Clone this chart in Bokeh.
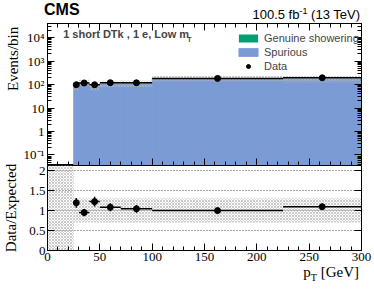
from bokeh.plotting import figure
from bokeh.models import Range1d, FixedTicker, LinearAxis, LogAxis, Label, Legend, LegendItem, Div
from bokeh.layouts import column
from bokeh.embed import file_html
from bokeh.resources import INLINE

# ---- data ----
bin_lo = [25, 30, 40, 50, 70, 100, 225]
bin_hi = [30, 40, 50, 70, 100, 225, 300]
spurious = [80, 120, 78, 108, 111, 179, 173]
genuine = [2, 2, 2, 2, 2, 3, 3]
bkg_unc = [0.30, 0.30, 0.30, 0.30, 0.30, 0.30, 0.30]
data = [98, 116, 98, 119, 118, 182, 193]
data_err = [10, 11, 10, 11, 11, 13.5, 14]

log_ticks = [0.1, 1, 10, 100, 1000, 10000]
log_labels = ["10\u207b\u00b9", "1", "10", "10\u00b2", "10\u00b3", "10\u2074"]
x_ticks = [0, 50, 100, 150, 200, 250, 300]
ratio_ticks = [0, 0.5, 1, 1.5, 2]
ratio_labels = ["0", "0.5", "1", "1.5", "2"]

BLUE = "#7b9bd5"
GREEN = "#00a070"
SERIF = "Liberation Serif"
SANS = "Liberation Sans"
HATCH = "#b4b4b4"

centers = [(a + b) / 2 for a, b in zip(bin_lo, bin_hi)]
total = [s + g for s, g in zip(spurious, genuine)]
ratio = [d / t for d, t in zip(data, total)]
ratio_err = [e / t for e, t in zip(data_err, total)]

xr = Range1d(0, 300)
minor_x = [v for v in range(10, 300, 10) if v % 50]
minor_log = [m * 10.0 ** e for e in range(-2, 5) for m in range(2, 10)]


def style_axis(ax, standoff=3):
    ax.major_tick_in = 7
    ax.major_tick_out = 0
    ax.minor_tick_in = 4
    ax.minor_tick_out = 0
    ax.axis_line_color = "black"
    ax.major_tick_line_color = "black"
    ax.minor_tick_line_color = "black"
    ax.major_label_text_font = SERIF
    ax.major_label_text_font_size = "13px"
    ax.major_label_standoff = standoff
    ax.major_label_text_color = "black"
    ax.axis_label_text_font = SERIF
    ax.axis_label_text_font_size = "15px"
    ax.axis_label_text_font_style = "normal"
    ax.axis_label_text_color = "black"


def tick_only_axes(p, cls, side, majors, minors):
    # label-free axes: long ticks at major positions, short at minor ones
    for pos, length in ((majors, 7), (minors, 4)):
        ax = cls(ticker=FixedTicker(ticks=[], minor_ticks=pos))
        ax.major_tick_in = 0
        ax.major_tick_out = 0
        ax.minor_tick_in = length
        ax.minor_tick_out = 0
        ax.minor_tick_line_color = "black"
        ax.axis_line_color = "black"
        ax.major_label_standoff = 0
        p.add_layout(ax, side)


# ---- header texts ----
header = Div(text=(
    "<div style='position:relative;width:374px;height:21px;'>"
    "<span style=\"position:absolute;left:44px;top:2px;font-family:'Liberation Sans';"
    "font-weight:bold;font-size:16px;line-height:16px;color:black;\">CMS</span>"
    "<span style=\"position:absolute;right:14px;top:4px;font-family:'Liberation Sans';"
    "font-size:13px;line-height:14px;color:black;white-space:nowrap;\">"
    "100.5 fb<sup style='font-size:9px;'>-1</sup> (13 TeV)</span></div>"),
    width=374, height=21, margin=(0, 0, 0, 0))

# ---- top panel ----
p1 = figure(frame_width=314, frame_height=142, x_range=xr,
            y_range=Range1d(0.0357, 3.95e4), y_axis_type="log", x_axis_location=None,
            output_backend="svg", toolbar_location=None,
            min_border_left=44, min_border_right=16, min_border_top=2,
            min_border_bottom=0)
p1.grid.visible = False
p1.outline_line_color = "black"

r_sp = p1.quad(left=bin_lo, right=bin_hi, bottom=[1e-3] * len(bin_lo), top=spurious,
               fill_color=BLUE, line_color=BLUE, line_width=0.8)
r_ge = p1.quad(left=bin_lo, right=bin_hi, bottom=spurious, top=total,
               fill_color=GREEN, line_color=None)
p1.quad(left=bin_lo, right=bin_hi,
        bottom=[t * (1 - u) for t, u in zip(total, bkg_unc)],
        top=[t * (1 + u) for t, u in zip(total, bkg_unc)],
        fill_alpha=0, line_color=None, hatch_pattern="diagonal_cross",
        hatch_scale=3, hatch_weight=0.7, hatch_color=HATCH)
p1.segment(x0=bin_lo, x1=bin_hi, y0=data, y1=data, line_color="black", line_width=1.5)
p1.segment(x0=centers, x1=centers, y0=[d - e for d, e in zip(data, data_err)],
           y1=[d + e for d, e in zip(data, data_err)], line_color="black", line_width=1.5)
r_da = p1.scatter(centers, data, size=6, color="black")

p1.yaxis.ticker = FixedTicker(ticks=log_ticks, minor_ticks=minor_log)
p1.yaxis.major_label_overrides = {t: l for t, l in zip(log_ticks, log_labels)}
style_axis(p1.yaxis[0], standoff=3)
p1.yaxis.axis_label = "\u00a0" * 19 + "Events/bin"
p1.yaxis.axis_label_standoff = 0

tick_only_axes(p1, LinearAxis, "below", x_ticks, minor_x)
tick_only_axes(p1, LinearAxis, "above", x_ticks, minor_x)
tick_only_axes(p1, LogAxis, "right", log_ticks, minor_log)

legend = Legend(items=[LegendItem(label="Genuine showering", renderers=[r_ge]),
                       LegendItem(label="Spurious", renderers=[r_sp]),
                       LegendItem(label="Data", renderers=[r_da])],
                location=(189, 93), glyph_width=24, glyph_height=10,
                label_height=12, spacing=2, padding=0, margin=0,
                label_standoff=4, label_text_font=SANS, label_text_font_size="11px",
                border_line_color=None, background_fill_alpha=0)
p1.add_layout(legend)

p1.add_layout(Label(x=15, y=1.35e4, text="1 short DTk , 1 e, Low m", text_font=SANS,
                    text_font_style="bold", text_font_size="11px", text_align="left",
                    text_baseline="middle"))
p1.add_layout(Label(x=133.5, y=0.85e4, text="T", text_font=SANS,
                    text_font_style="bold", text_font_size="7px", text_align="left",
                    text_baseline="middle"))

# ---- ratio panel ----
p2 = figure(frame_width=314, frame_height=85, x_range=xr, y_range=Range1d(0, 2.13),
            output_backend="svg", toolbar_location=None,
            min_border_left=44, min_border_right=16, min_border_top=5,
            min_border_bottom=15, margin=(-5, 0, 0, 0))
p2.border_fill_alpha = 0
p2.xgrid.visible = False
p2.ygrid.ticker = FixedTicker(ticks=[0.5, 1, 1.5, 2])
p2.ygrid.grid_line_color = "#555555"
p2.ygrid.grid_line_dash = "1 2"
p2.ygrid.grid_line_width = 1
p2.outline_line_color = "black"

p2.quad(left=[0], right=[25], bottom=[0], top=[2.13], fill_alpha=0, line_color=None,
        hatch_pattern="diagonal_cross", hatch_scale=3, hatch_weight=0.7, hatch_color=HATCH)
p2.quad(left=bin_lo, right=bin_hi, bottom=[1 - u for u in bkg_unc],
        top=[1 + u for u in bkg_unc], fill_alpha=0, line_color=None,
        hatch_pattern="diagonal_cross", hatch_scale=3, hatch_weight=0.7, hatch_color=HATCH)
p2.segment(x0=bin_lo, x1=bin_hi, y0=ratio, y1=ratio, line_color="black", line_width=1.5)
p2.segment(x0=centers, x1=centers, y0=[r - e for r, e in zip(ratio, ratio_err)],
           y1=[r + e for r, e in zip(ratio, ratio_err)], line_color="black", line_width=1.5)
p2.scatter(centers, ratio, size=6, color="black")

p2.yaxis.ticker = FixedTicker(ticks=ratio_ticks)
p2.yaxis.major_label_overrides = {t: l for t, l in zip(ratio_ticks, ratio_labels)}
style_axis(p2.yaxis[0], standoff=2)
p2.yaxis.minor_tick_in = 0
p2.yaxis.axis_label = "Data/Expected"
p2.yaxis.axis_label_standoff = 7
p2.xaxis.ticker = FixedTicker(ticks=x_ticks, minor_ticks=minor_x)
style_axis(p2.xaxis[0], standoff=2)
ax_r2 = LinearAxis(ticker=FixedTicker(ticks=[], minor_ticks=ratio_ticks))
ax_r2.major_tick_in = 0
ax_r2.major_tick_out = 0
ax_r2.minor_tick_in = 7
ax_r2.minor_tick_out = 0
ax_r2.major_label_standoff = 0
p2.add_layout(ax_r2, "right")

footer = Div(text=(
    "<div style='position:relative;width:374px;height:20px;'>"
    "<span style=\"position:absolute;right:15px;top:0px;font-family:'Liberation Serif';"
    "font-size:15px;line-height:15px;color:black;white-space:nowrap;\">"
    "p<sub style='font-size:10px;'>T</sub> [GeV]</span></div>"),
    width=374, height=20, margin=(0, 0, 0, 0))

layout = column(header, p1, p2, footer, spacing=0)
open("out.html", "w").write(file_html(layout, INLINE))
